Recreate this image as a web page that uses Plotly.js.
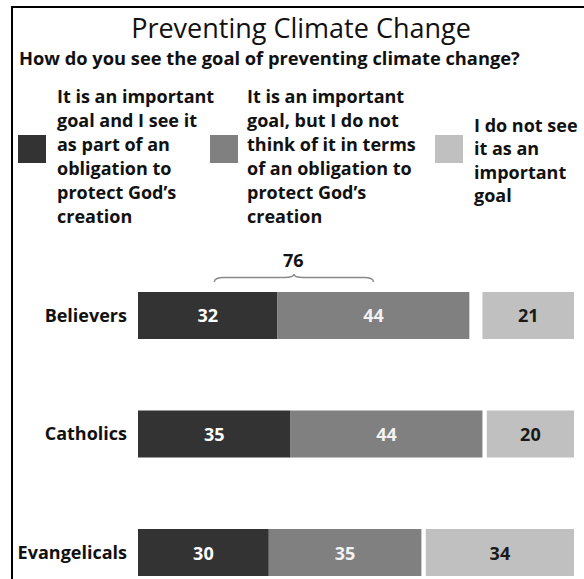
<!DOCTYPE html>
<html>
<head>
<meta charset="utf-8">
<script src="https://cdn.plot.ly/plotly-3.0.1.min.js"></script>
<style>
  html, body { margin: 0; padding: 0; background: #ffffff; }
  #chart { width: 584px; height: 579px; }
</style>
</head>
<body>
<div id="chart"></div>
<script>
// ---------------- data ----------------
const categories = ["Believers", "Catholics", "Evangelicals"];
const obligationValues = [32, 35, 30];      // important goal, part of obligation to protect God's creation
const notObligationValues = [44, 44, 35];   // important goal, but not as obligation
const notImportantValues = [21, 20, 34];    // not an important goal
const seriesNames = [
  ["It is an important", "goal and I see it", "as part of an", "obligation to", "protect God\u2019s", "creation"],
  ["It is an important", "goal, but I do not", "think of it in terms", "of an obligation to", "protect God\u2019s", "creation"],
  ["I do not see", "it as an", "important", "goal"]
];
const seriesColors = ["#333333", "#808080", "#c0c0c0"];
const titleText = "Preventing Climate Change";
const subtitleText = "How do you see the goal of preventing climate change?";

// ---------------- layout helpers ----------------
const W = 584, H = 579;
const M = { l: 138, r: 10, t: 250, b: 0 };
const PW = W - M.l - M.r, PH = H - M.t - M.b;
const px2x = px => (px - M.l) / PW;          // pixel -> paper x
const py2y = py => (H - M.b - py) / PH;       // pixel -> paper y

const FONT = "'Open Sans', Lato, sans-serif";
const barWidth = 0.397;

const secondBase = obligationValues.slice();
const thirdBase = notImportantValues.map(v => 100 - v);

const traces = [
  {
    type: "bar", orientation: "h", y: categories, x: obligationValues, base: 0,
    width: barWidth, marker: { color: seriesColors[0] },
    text: obligationValues.map(String), textposition: "inside", insidetextanchor: "middle",
    textfont: { family: FONT, size: 18, color: "#ffffff", weight: "bold" },
    hoverinfo: "none", showlegend: false
  },
  {
    type: "bar", orientation: "h", y: categories, x: notObligationValues, base: secondBase,
    width: barWidth, marker: { color: seriesColors[1] },
    text: notObligationValues.map(String), textposition: "inside", insidetextanchor: "middle",
    textfont: { family: FONT, size: 18, color: "#f2f2f2", weight: "bold" },
    hoverinfo: "none", showlegend: false
  },
  {
    type: "bar", orientation: "h", y: categories, x: notImportantValues, base: thirdBase,
    width: barWidth, marker: { color: seriesColors[2] },
    text: notImportantValues.map(String), textposition: "inside", insidetextanchor: "middle",
    textfont: { family: FONT, size: 18, color: "#1a1a1a", weight: "bold" },
    hoverinfo: "none", showlegend: false
  }
];

// legend (squares + text)
const legendSquareX = [18, 210, 435];
const legendTextX = [55, 245, 472];
const squareTop = 135, squareSize = 28;
const LEG_FONT = { family: FONT, size: 18, color: "#111111", weight: "bold" };

const shapes = [
  // border (left + top)
  { type: "line", xref: "paper", yref: "paper", x0: px2x(12), x1: px2x(12), y0: py2y(7), y1: py2y(H + 2),
    line: { color: "#000000", width: 2 } },
  { type: "line", xref: "paper", yref: "paper", x0: px2x(11), x1: px2x(W + 2), y0: py2y(7), y1: py2y(7),
    line: { color: "#000000", width: 2 } }
];
const annotations = [
  { xref: "paper", yref: "paper", x: px2x(17), y: py2y(58), xanchor: "left", yanchor: "middle",
    text: subtitleText, showarrow: false, font: { family: FONT, size: 18.3, color: "#111111", weight: "bold" } }
];

seriesNames.forEach((lines, i) => {
  shapes.push({
    type: "rect", xref: "paper", yref: "paper",
    x0: px2x(legendSquareX[i]), x1: px2x(legendSquareX[i] + squareSize),
    y0: py2y(squareTop + squareSize), y1: py2y(squareTop),
    fillcolor: seriesColors[i], line: { width: 0 }
  });
  if (i < 2) {
    lines.forEach((ln, j) => {
      annotations.push({
        xref: "paper", yref: "paper", x: px2x(legendTextX[i]), y: py2y(96 + j * 24),
        xanchor: "left", yanchor: "middle", text: ln, showarrow: false, font: LEG_FONT
      });
    });
  } else {
    annotations.push({
      xref: "paper", yref: "paper", x: px2x(legendTextX[i]), y: py2y(160),
      xanchor: "left", yanchor: "middle", align: "left", text: lines.join("<br>"), showarrow: false, font: LEG_FONT
    });
  }
});

// brace above the first two segments of Believers, with their sum
const braceSum = obligationValues[0] + notObligationValues[0];
const bx0 = 17.5, bx1 = 54, bxm = (bx0 + bx1) / 2;
const yEnd = py2y(282), yMid = py2y(277.5), yTop = py2y(274);
const d = 2.2;
const bracePath =
  `M ${bx0} ${yEnd} Q ${bx0} ${yMid} ${bx0 + d} ${yMid} L ${bxm - d} ${yMid} Q ${bxm} ${yMid} ${bxm} ${yTop} ` +
  `Q ${bxm} ${yMid} ${bxm + d} ${yMid} L ${bx1 - d} ${yMid} Q ${bx1} ${yMid} ${bx1} ${yEnd}`;
shapes.push({ type: "path", xref: "x", yref: "paper", path: bracePath, line: { color: "#8a8a8a", width: 1.5 } });
annotations.push({ xref: "x", yref: "paper", x: bxm, y: py2y(260), xanchor: "center", yanchor: "middle",
  text: String(braceSum), showarrow: false, font: { family: FONT, size: 18, color: "#111111", weight: "bold" } });

const layout = {
  width: W, height: H,
  margin: M,
  paper_bgcolor: "#ffffff", plot_bgcolor: "#ffffff",
  barmode: "overlay",
  title: { text: titleText, x: 301 / W, xanchor: "center", y: 1 - 29 / H, yanchor: "middle",
    font: { family: FONT, size: 27, color: "#111111", weight: 500 } },
  xaxis: { range: [0, 100], visible: false, fixedrange: true },
  yaxis: { type: "category", range: [2.2236, -0.5527], showgrid: false, zeroline: false, showline: false,
    ticks: "", ticklabelstandoff: 10, tickfont: { family: FONT, size: 18, color: "#111111", weight: "bold" },
    fixedrange: true },
  shapes: shapes,
  annotations: annotations,
  showlegend: false,
  uniformtext: { mode: false }
};

Plotly.newPlot("chart", traces, layout, { displayModeBar: false, staticPlot: true });
</script>
</body>
</html>
